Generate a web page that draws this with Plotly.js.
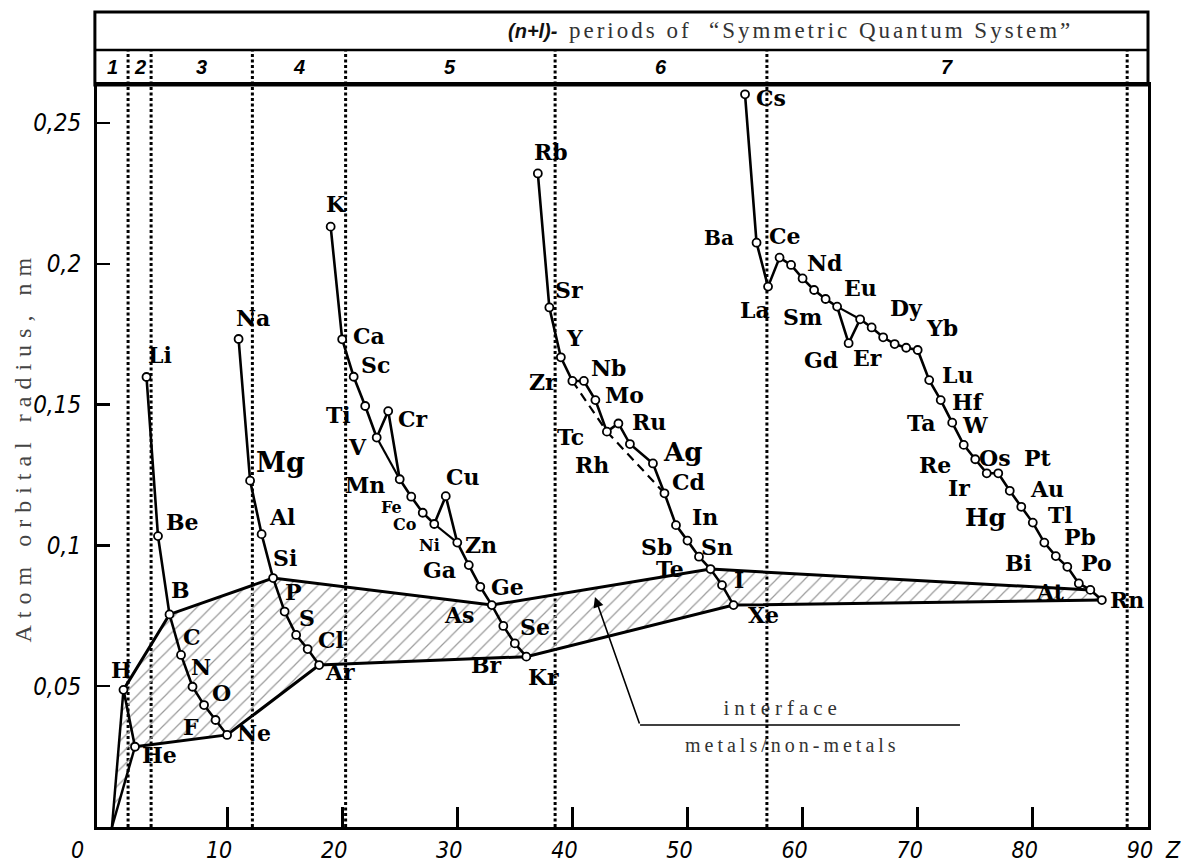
<!DOCTYPE html>
<html><head><meta charset="utf-8">
<script src="https://cdn.plot.ly/plotly-3.0.1.min.js"></script>
<style>body{margin:0;background:#fff}</style>
</head><body>
<div id="chart" style="width:1203px;height:864px"></div>
<script>
// ---------------- data ----------------
const symbols = ['H','He','Li','Be','B','C','N','O','F','Ne','Na','Mg','Al','Si','P','S','Cl','Ar',
  'K','Ca','Sc','Ti','V','Cr','Mn','Fe','Co','Ni','Cu','Zn','Ga','Ge','As','Se','Br','Kr',
  'Rb','Sr','Y','Zr','Nb','Mo','Tc','Ru','Rh','Ag','Cd','In','Sn','Sb','Te','I','Xe',
  'Cs','Ba','La','Ce','Pr','Nd','Pm','Sm','Eu','Gd','Tb','Dy','Ho','Er','Tm','Yb',
  'Lu','Hf','Ta','W','Re','Os','Ir','Pt','Au','Hg','Tl','Pb','Bi','Po','At','Rn'];
const atomicNumbers = [1,2,3,4,5,6,7,8,9,10,11,12,13,14,15,16,17,18,
  19,20,21,22,23,24,25,26,27,28,29,30,31,32,33,34,35,36,
  37,38,39,40,41,42,43,44,45,47,48,49,50,51,52,53,54,
  55,56,57,58,59,60,61,62,63,64,65,66,67,68,69,70,
  71,72,73,74,75,76,77,78,79,80,81,82,83,84,85,86];
const radii = [0.0487,0.0285,0.1598,0.1033,0.0755,0.0611,0.0498,0.0433,0.0380,0.0327,
  0.1733,0.1230,0.1040,0.0884,0.0765,0.0682,0.0632,0.0575,
  0.2132,0.1732,0.1599,0.1495,0.1383,0.1477,0.1235,0.1173,0.1116,0.1076,0.1175,0.1010,0.0930,0.0853,0.0788,0.0714,0.0652,0.0605,
  0.2321,0.1845,0.1668,0.1584,0.1584,0.1516,0.1404,0.1433,0.1360,0.1291,0.1185,0.1072,0.1017,0.0960,0.0916,0.0859,0.0788,
  0.2602,0.2075,0.1919,0.2022,0.1996,0.1948,0.1907,0.1875,0.1848,0.1718,0.1803,0.1774,0.1739,0.1715,0.1702,0.1694,
  0.1587,0.1516,0.1436,0.1357,0.1306,0.1256,0.1256,0.1194,0.1137,0.1081,0.1010,0.0962,0.0924,0.0865,0.0842,0.0806];

const chains = [
  ['H','He'],
  ['Li','Be','B','C','N','O','F','Ne'],
  ['Na','Mg','Al','Si','P','S','Cl','Ar'],
  ['K','Ca','Sc','Ti','V','Cr','Mn','Fe','Co','Ni','Cu','Zn','Ga','Ge','As','Se','Br','Kr'],
  ['Rb','Sr','Y','Zr','Nb','Mo','Tc','Ru','Rh','Ag','Cd','In','Sn','Sb','Te','I','Xe'],
  ['Cs','Ba','La','Ce','Pr','Nd','Pm','Sm','Eu','Gd','Tb','Dy','Ho','Er','Tm','Yb','Lu','Hf','Ta','W','Re','Os','Ir','Pt','Au','Hg','Tl','Pb','Bi','Po','At','Rn']
];
const bypassLinks = [['V','Mn'],['Ni','Zn'],['Eu','Tb']];
const dashedLinks = [['Zr','Tc'],['Tc','Cd']];
const upperInterface = ['H','B','Si','As','Te','At'];
const lowerInterface = ['He','Ne','Ar','Kr','Xe','Rn'];
const originLinks = ['H','He'];

const periodBoundaries = [1.4, 3.4, 12.2, 20.3, 38.5, 56.9, 88.2];
const periodNames = ['1','2','3','4','5','6','7'];
const xTickValues = [10,20,30,40,50,60,70,80,90];
const xTickLabels = ['10','20','30','40','50','60','70','80','90'];
const yTickValues = [0.05,0.1,0.15,0.2,0.25];
const yTickLabels = ['0,05','0,1','0,15','0,2','0,25'];

// ---------------- label placement (pixels, screen offsets) ----------------
const labelOffsets = {
  H:[-2,-20],He:[25,8],Li:[14,-22],Be:[24,-14],B:[11,-24],C:[11,-18],N:[8,-20],O:[17,-12],F:[-25,7],Ne:[27,-2],
  Na:[14,-21],Mg:[30,-18],Al:[20,-17],Si:[12,-20],P:[9,-20],S:[11,-17],Cl:[23,-9],Ar:[21,7],
  K:[5,-23],Ca:[27,-3],Sc:[22,-12],Ti:[-27,9],V:[-19,9],Cr:[25,8],Mn:[-35,6],Fe:[-20,11],Co:[-18,12],Ni:[-5,21],
  Cu:[17,-19],Zn:[24,2],Ga:[-29,5],Ge:[27,0],As:[-33,10],Se:[32,1],Br:[-28,22],Kr:[17,20],
  Rb:[13,-21],Sr:[20,-17],Y:[14,-19],Zr:[-29,1],Nb:[25,-13],Mo:[29,-5],Tc:[-36,5],Ru:[31,-1],Rh:[-38,21],
  Ag:[30,-11],Cd:[24,-11],In:[29,-8],Sn:[30,6],Sb:[-42,-10],Te:[-41,0],I:[17,-5],Xe:[30,10],
  Cs:[26,4],Ba:[-38,-5],La:[-13,23],Ce:[5,-22],Nd:[22,-15],Sm:[-23,18],Eu:[23,-19],Gd:[-28,17],Dy:[35,-19],
  Er:[-27,14],Yb:[24,-22],Lu:[28,-5],Hf:[27,2],Ta:[-31,0],W:[11,-20],Re:[-40,6],Os:[8,-15],Ir:[-39,15],
  Pt:[28,-33],Au:[26,-18],Hg:[-47,-5],Tl:[16,-28],Pb:[24,-19],Bi:[-49,-4],Po:[18,-20],At:[-40,2],Rn:[25,0]
};
const labelSizes = {Mg:27, Ag:26, Hg:25, Fe:16, Co:16, Ni:16, Ba:20};

// ---------------- helpers ----------------
function xs(list){ return list.map(s => atomicNumbers[symbols.indexOf(s)]); }
function ys(list){ return list.map(s => radii[symbols.indexOf(s)]); }

const traces = [];
const poly = ['H'].concat(upperInterface.slice(1)).concat(lowerInterface.slice().reverse());
traces.push({
  type:'scatter', mode:'none', fill:'toself', hoverinfo:'skip', showlegend:false,
  x:[0].concat(xs(poly)).concat([0]), y:[0].concat(ys(poly)).concat([0]),
  fillcolor:'rgba(0,0,0,0)',
  fillpattern:{shape:'/', fgcolor:'#9a9a9a', bgcolor:'rgba(0,0,0,0)', size:10, solidity:0.12, fillmode:'replace'}
});
[upperInterface, lowerInterface].forEach(list => traces.push({
  type:'scatter', mode:'lines', x:xs(list), y:ys(list), showlegend:false, hoverinfo:'skip',
  line:{color:'#000', width:3}
}));
originLinks.forEach(s => traces.push({
  type:'scatter', mode:'lines', x:[0].concat(xs([s])), y:[0].concat(ys([s])), showlegend:false, hoverinfo:'skip',
  line:{color:'#000', width:2.5}
}));
bypassLinks.forEach(p => traces.push({
  type:'scatter', mode:'lines', x:xs(p), y:ys(p), showlegend:false, hoverinfo:'skip',
  line:{color:'#000', width:2.2}
}));
dashedLinks.forEach(p => traces.push({
  type:'scatter', mode:'lines', x:xs(p), y:ys(p), showlegend:false, hoverinfo:'skip',
  line:{color:'#000', width:2.2, dash:'9px,6px'}
}));
chains.forEach(list => traces.push({
  type:'scatter', mode:'lines+markers', x:xs(list), y:ys(list), showlegend:false,
  text:list, hoverinfo:'text',
  line:{color:'#000', width:2.6},
  marker:{symbol:'circle', size:8, color:'#fff', line:{color:'#000', width:1.8}}
}));

// ---------------- annotations ----------------
const serifLabel = 'DejaVu Serif, Liberation Serif, serif';
const annotations = [];
function note(o){ annotations.push(Object.assign({showarrow:false, xanchor:'center', yanchor:'middle'}, o)); }
symbols.forEach((s,i) => {
  const off = labelOffsets[s];
  if(!off) return;
  note({x: atomicNumbers[i], y: radii[i], xref:'x', yref:'y',
    text: s, xshift: off[0], yshift: -off[1],
    font:{family:serifLabel, size: labelSizes[s] || 22, color:'#000', weight:700}});
});
const edges = [-1.3].concat(periodBoundaries);
periodNames.forEach((p,i) => note({
  x:(edges[i]+edges[i+1])/2, xref:'x', y:1.0243, yref:'paper', text:p,
  font:{family:'Liberation Sans, Arial, sans-serif', size:20, color:'#000', weight:700, style:'italic'}
}));
note({x:0.4148, y:1.0728, xref:'paper', yref:'paper', text:'(n+l)-',
  font:{family:'Liberation Sans, Arial, sans-serif', size:20, color:'#111', weight:700, style:'italic'}});
note({x:0.6889, y:1.0728, xref:'paper', yref:'paper',
  text:'periods of  “Symmetric Quantum System”',
  font:{family:'Liberation Serif, Times New Roman, serif', size:23, color:'#333'}});
const tickFont = {family:'DejaVu Sans Condensed, Liberation Sans Narrow, DejaVu Sans, sans-serif', size:23, color:'#000', style:'italic'};
note({x:-0.019, y:-0.0310, xref:'paper', yref:'paper', text:'0', font:tickFont});
note({x:1.0238, y:-0.0310, xref:'paper', yref:'paper', text:'Z', font:tickFont});
note({x:-0.0704, y:0.5121, xref:'paper', yref:'paper', textangle:-90,
  text:'Atom orbital radius, nm', font:{family:'Liberation Serif, Times New Roman, serif', size:24, color:'#444'}});
annotations.push({x:0.4738, y:0.3100, xref:'paper', yref:'paper', ax:45, ay:128, showarrow:true, text:'',
  arrowhead:2, arrowsize:1.3, arrowwidth:1.6, arrowcolor:'#000'});
note({x:0.6518, y:0.1604, xref:'paper', yref:'paper', text:'interface',
  font:{family:'Liberation Serif, Times New Roman, serif', size:21, color:'#333'}});
note({x:0.6622, y:0.1105, xref:'paper', yref:'paper', text:'metals/non-metals',
  font:{family:'Liberation Serif, Times New Roman, serif', size:20, color:'#333'}});

// ---------------- shapes ----------------
const shapes = [];
shapes.push({type:'rect', xref:'paper', yref:'paper', x0:-0.002, x1:1, y0:1, y1:1.0984, line:{color:'#000', width:3}});
shapes.push({type:'line', xref:'paper', yref:'paper', x0:-0.002, x1:1, y0:1.0472, y1:1.0472, line:{color:'#000', width:2.5}});
periodBoundaries.forEach(b => shapes.push({type:'line', xref:'x', yref:'paper', x0:b, x1:b, y0:0, y1:1.0472,
  layer:'below', line:{color:'#000', width:3, dash:'3px,2.5px'}}));
shapes.push({type:'line', xref:'paper', yref:'paper', x0:0.5167, x1:0.8211, y0:0.1375, y1:0.1375, line:{color:'#000', width:1.6}});

const layout = {
  width:1203, height:864,
  margin:{l:97, r:55, t:85, b:37},
  paper_bgcolor:'#fff', plot_bgcolor:'#fff',
  showlegend:false,
  xaxis:{range:[-1.3, 90.01], showgrid:false, zeroline:false, automargin:false,
    showline:true, linecolor:'#000', linewidth:3, mirror:true,
    ticks:'inside', ticklen:20, tickwidth:3, tickcolor:'#000',
    tickvals:xTickValues, ticktext:xTickLabels, tickfont:tickFont,
    ticklabelshift:-8, ticklabelstandoff:0},
  yaxis:{range:[0, 0.2635], showgrid:false, zeroline:false, automargin:false,
    showline:true, linecolor:'#000', linewidth:3, mirror:true,
    ticks:'inside', ticklen:13, tickwidth:2.5, tickcolor:'#000',
    tickvals:yTickValues, ticktext:yTickLabels, tickfont:Object.assign({}, tickFont, {size:24}),
    ticklabelstandoff:8},
  annotations: annotations,
  shapes: shapes
};

const spacing = {
  'Atom orbital radius, nm':'7px',
  'periods of  “Symmetric Quantum System”':'3px',
  'interface':'5px',
  'metals/non-metals':'4px'
};
Plotly.newPlot('chart', traces, layout, {displayModeBar:false, staticPlot:true}).then(() => {
  document.querySelectorAll('text.annotation-text').forEach(t => {
    const sp = spacing[t.textContent];
    if(sp) t.style.letterSpacing = sp;
  });
});
</script>
</body></html>
